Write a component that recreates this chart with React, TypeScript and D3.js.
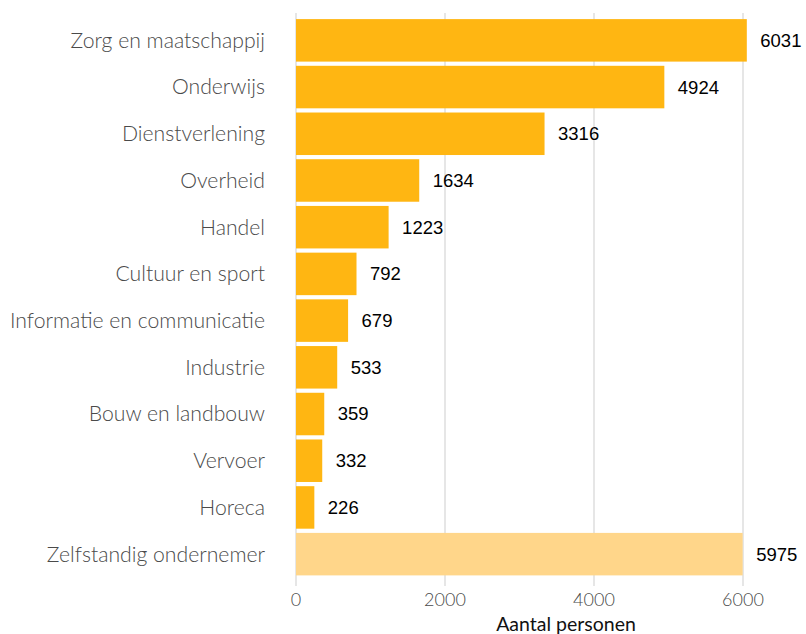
import React, { useEffect, useRef } from "react";
import * as d3 from "d3";

const categories = [
  "Zorg en maatschappij",
  "Onderwijs",
  "Dienstverlening",
  "Overheid",
  "Handel",
  "Cultuur en sport",
  "Informatie en communicatie",
  "Industrie",
  "Bouw en landbouw",
  "Vervoer",
  "Horeca",
  "Zelfstandig ondernemer",
];
const values = [6031, 4924, 3316, 1634, 1223, 792, 679, 533, 359, 332, 226, 5975];
const xTicks = [0, 2000, 4000, 6000];
const xTitle = "Aantal personen";

const App = () => {
  const svgRef = useRef<SVGSVGElement>(null);

  useEffect(() => {
    const svg = d3.select(svgRef.current);
    svg.selectAll("*").remove();

    const width = 806;
    const height = 634;
    const labelFont = "Lato, 'Open Sans', sans-serif";

    const x = d3.scaleLinear().domain([0, 6000]).range([296, 743]);
    const y = d3
      .scaleBand()
      .domain(categories)
      .range([17, 577.5])
      .paddingInner(0.09)
      .paddingOuter(0.045);

    // grid lines
    svg
      .append("g")
      .selectAll("line")
      .data(xTicks)
      .enter()
      .append("line")
      .attr("x1", (d) => x(d))
      .attr("x2", (d) => x(d))
      .attr("y1", 13)
      .attr("y2", 586)
      .attr("stroke", "#dedede")
      .attr("stroke-width", 1.5);

    // bars
    svg
      .append("g")
      .selectAll("rect")
      .data(values)
      .enter()
      .append("rect")
      .attr("x", x(0))
      .attr("y", (d, i) => y(categories[i]) as number)
      .attr("width", (d) => x(d) - x(0) + 1.5)
      .attr("height", y.bandwidth())
      .attr("fill", (d, i) => (i === categories.length - 1 ? "#ffd68a" : "#ffb612"));

    // value labels
    svg
      .append("g")
      .selectAll("text")
      .data(values)
      .enter()
      .append("text")
      .attr("x", (d) => x(d) + 15)
      .attr("y", (d, i) => (y(categories[i]) as number) + y.bandwidth() / 2)
      .attr("dy", "0.35em")
      .style("font-family", "'Liberation Sans', Arial, sans-serif")
      .style("font-size", "18.5px")
      .style("fill", "#000")
      .text((d) => d);

    // category labels
    svg
      .append("g")
      .selectAll("text")
      .data(categories)
      .enter()
      .append("text")
      .attr("x", 265)
      .attr("y", (d) => (y(d) as number) + y.bandwidth() / 2)
      .attr("dy", "0.35em")
      .attr("text-anchor", "end")
      .style("font-family", labelFont)
      .style("font-weight", "300")
      .style("font-size", "21.2px")
      .style("fill", "#4a4a4a")
      .text((d) => d);

    // x tick labels
    svg
      .append("g")
      .selectAll("text")
      .data(xTicks)
      .enter()
      .append("text")
      .attr("x", (d) => x(d))
      .attr("y", 600)
      .attr("dy", "0.35em")
      .attr("text-anchor", "middle")
      .style("font-family", labelFont)
      .style("font-weight", "300")
      .style("font-size", "18px")
      .style("fill", "#4a4a4a")
      .text((d) => d);

    // axis title
    svg
      .append("text")
      .attr("x", 566)
      .attr("y", 631)
      .attr("text-anchor", "middle")
      .style("font-family", labelFont)
      .style("font-size", "19.5px")
      .style("fill", "#111")
      .text(xTitle);

    svg.attr("width", width).attr("height", height);
  }, []);

  return (
    <svg
      ref={svgRef}
      width={806}
      height={634}
      style={{ position: "absolute", left: 0, top: 0, background: "#fff" }}
    />
  );
};

export default App;
